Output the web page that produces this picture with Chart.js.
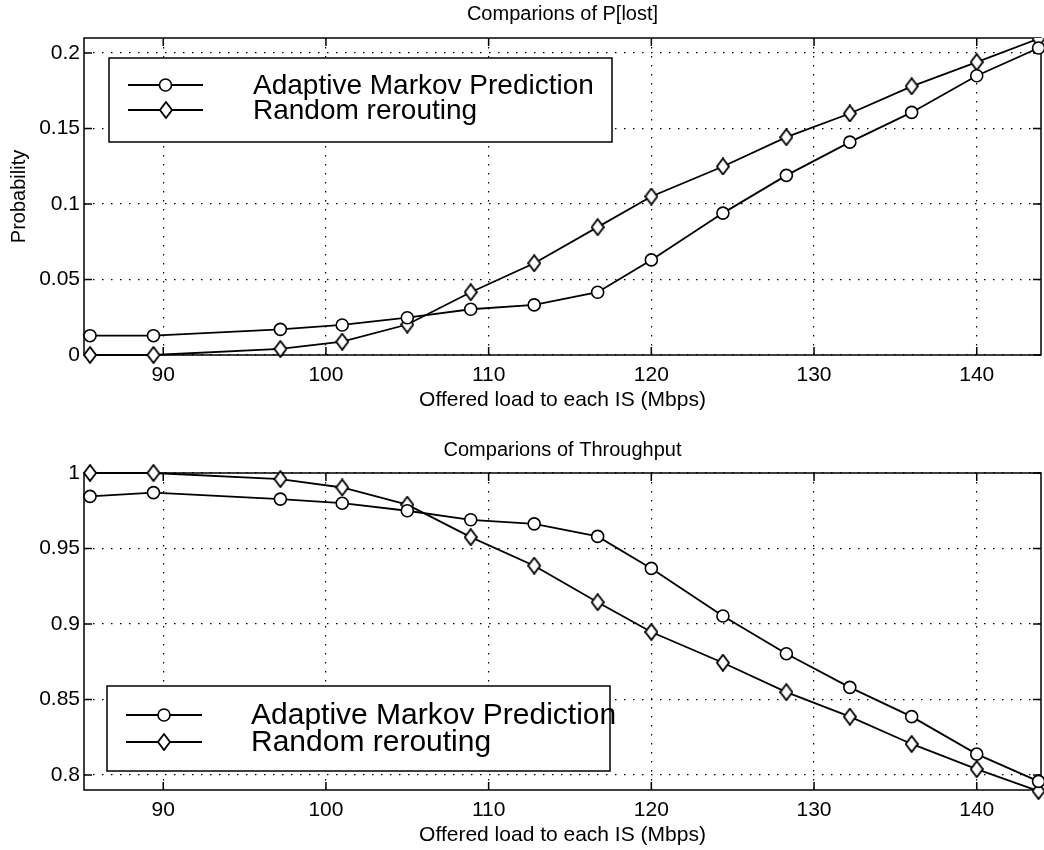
<!DOCTYPE html>
<html>
<head>
<meta charset="utf-8">
<title>Comparions of P[lost] / Throughput</title>
<script src="https://cdn.jsdelivr.net/npm/chart.js@4.4.1/dist/chart.umd.min.js"></script>
<style>
  body { margin: 0; background: #fff; }
  canvas { display: block; }
</style>
</head>
<body>
<canvas id="lostChart" width="1044" height="420"></canvas>
<canvas id="throughputChart" width="1044" height="430"></canvas>
<script>
// Offered load to each IS (Mbps) - same sample points for both schemes
const offeredLoad = [85.5, 89.4, 97.2, 101.0, 105.0, 108.9, 112.8, 116.7, 120.0, 124.4, 128.3, 132.2, 136.0, 140.0, 143.8];

// P[lost]
const lostAdaptive = [0.0128, 0.0128, 0.0170, 0.0199, 0.0247, 0.0303, 0.0332, 0.0416, 0.0630, 0.0940, 0.1190, 0.1410, 0.1607, 0.1850, 0.2034];
const lostRandom   = [0, 0, 0.0040, 0.0088, 0.0202, 0.0416, 0.0608, 0.0847, 0.1050, 0.1249, 0.1443, 0.1600, 0.1780, 0.1940, 0.2095];

// Throughput
const thruAdaptive = [0.9845, 0.9870, 0.9827, 0.9800, 0.9750, 0.9690, 0.9663, 0.9580, 0.9368, 0.9053, 0.8803, 0.8580, 0.8386, 0.8138, 0.7957];
const thruRandom   = [1.0, 1.0, 0.9960, 0.9904, 0.9790, 0.9575, 0.9386, 0.9144, 0.8947, 0.8743, 0.8548, 0.8386, 0.8205, 0.8038, 0.7893];

const seriesNames = ['Adaptive Markov Prediction', 'Random rerouting'];
const xTicks = [90, 100, 110, 120, 130, 140];
const lostTicks = [0, 0.05, 0.1, 0.15, 0.2];
const thruTicks = [0.8, 0.85, 0.9, 0.95, 1];

Chart.defaults.font.family = '"Liberation Sans", Arial, Helvetica, sans-serif';
Chart.defaults.color = '#000';

// hollow diamond marker, a bit taller than wide like the matlab one
function makeDiamond(w, h) {
  const c = document.createElement('canvas');
  c.width = w + 2;
  c.height = h + 2;
  const g = c.getContext('2d');
  g.beginPath();
  g.moveTo(c.width / 2, 1);
  g.lineTo(c.width - 1, c.height / 2);
  g.lineTo(c.width / 2, c.height - 1);
  g.lineTo(1, c.height / 2);
  g.closePath();
  g.fillStyle = '#fff';
  g.fill();
  g.lineWidth = 1.8;
  g.strokeStyle = '#000';
  g.stroke();
  return c;
}
const diamond = makeDiamond(12, 16);

function drawCircle(ctx, x, y) {
  ctx.beginPath();
  ctx.arc(x, y, 6, 0, Math.PI * 2);
  ctx.fillStyle = '#fff';
  ctx.fill();
  ctx.lineWidth = 1.6;
  ctx.strokeStyle = '#000';
  ctx.stroke();
}

// box around the axes, inward ticks, and the boxed legend inside the plot
const matlabAxes = {
  id: 'matlabAxes',
  beforeDatasetsDraw(chart) {
    const { ctx, chartArea: a, scales } = chart;
    ctx.save();
    ctx.strokeStyle = '#000';
    ctx.lineWidth = 1.5;
    ctx.strokeRect(a.left, a.top, a.width, a.height);
    ctx.beginPath();
    scales.x.ticks.forEach(t => {
      const px = scales.x.getPixelForValue(t.value);
      ctx.moveTo(px, a.top); ctx.lineTo(px, a.top + 8);
      ctx.moveTo(px, a.bottom); ctx.lineTo(px, a.bottom - 8);
    });
    scales.y.ticks.forEach(t => {
      const py = scales.y.getPixelForValue(t.value);
      ctx.moveTo(a.left, py); ctx.lineTo(a.left + 8, py);
      ctx.moveTo(a.right, py); ctx.lineTo(a.right - 8, py);
    });
    ctx.stroke();
    ctx.restore();
  },
  afterDraw(chart, args, opts) {
    if (!opts.box) return;
    const { ctx } = chart;
    const [l, t, r, b] = opts.box;
    ctx.save();
    ctx.fillStyle = '#fff';
    ctx.fillRect(l, t, r - l, b - t);
    ctx.lineWidth = 1.5;
    ctx.strokeStyle = '#000';
    ctx.strokeRect(l, t, r - l, b - t);
    chart.data.datasets.forEach((ds, i) => {
      const y = opts.rows[i];
      ctx.beginPath();
      ctx.moveTo(opts.line[0], y);
      ctx.lineTo(opts.line[1], y);
      ctx.lineWidth = 1.8;
      ctx.strokeStyle = '#000';
      ctx.stroke();
      const mx = (opts.line[0] + opts.line[1]) / 2;
      if (ds.pointStyle === 'circle') drawCircle(ctx, mx, y);
      else ctx.drawImage(diamond, Math.round(mx - diamond.width / 2), Math.round(y - diamond.height / 2));
      ctx.fillStyle = '#000';
      ctx.font = opts.size + 'px "Liberation Sans", Arial, sans-serif';
      ctx.textBaseline = 'middle';
      ctx.textAlign = 'left';
      ctx.fillText(ds.label, opts.textX, y + 1);
    });
    ctx.restore();
  }
};

function toPoints(ys) {
  return offeredLoad.map((x, i) => ({ x: x, y: ys[i] }));
}

function makeChart(id, cfg) {
  return new Chart(document.getElementById(id), {
    type: 'line',
    data: {
      datasets: [
        {
          label: seriesNames[0],
          data: toPoints(cfg.adaptive),
          borderColor: '#000',
          borderWidth: 1.8,
          pointStyle: 'circle',
          pointRadius: 6,
          pointBorderWidth: 1.6,
          pointBorderColor: '#000',
          pointBackgroundColor: '#fff',
          tension: 0,
          clip: cfg.clip
        },
        {
          label: seriesNames[1],
          data: toPoints(cfg.random),
          borderColor: '#000',
          borderWidth: 1.8,
          pointStyle: diamond,
          pointRadius: 8,
          tension: 0,
          clip: cfg.clip
        }
      ]
    },
    options: {
      responsive: false,
      animation: false,
      layout: { padding: cfg.padding, autoPadding: false },
      plugins: {
        legend: { display: false },
        tooltip: { enabled: false },
        title: {
          display: true,
          text: cfg.title,
          fullSize: false,
          font: { size: 20, weight: 'normal' },
          padding: cfg.titlePadding
        },
        matlabAxes: cfg.legend
      },
      scales: {
        x: {
          type: 'linear',
          min: 85.13,
          max: 143.95,
          afterBuildTicks: s => { s.ticks = xTicks.map(v => ({ value: v })); },
          afterFit: s => { s.height = 60; s.paddingLeft = 0; s.paddingRight = 0; },
          ticks: { font: { size: 21 }, padding: 8, maxRotation: 0 },
          grid: { color: '#000', lineWidth: 1.2, drawTicks: false },
          border: { display: false, dash: [1.5, 7.5] },
          title: {
            display: true,
            text: 'Offered load to each IS (Mbps)',
            font: { size: 21 },
            padding: { top: 0, bottom: 2 }
          }
        },
        y: {
          min: cfg.yMin,
          max: cfg.yMax,
          afterBuildTicks: s => { s.ticks = cfg.yTicks.map(v => ({ value: v })); },
          afterFit: s => { s.width = 84; s.paddingTop = 0; s.paddingBottom = 0; },
          ticks: { font: { size: 21 }, padding: 4, callback: v => String(v) },
          grid: { color: '#000', lineWidth: 1.2, drawTicks: false },
          border: { display: false, dash: [1.5, 7.5] },
          title: {
            display: cfg.yTitle !== '',
            text: cfg.yTitle,
            font: { size: 20 },
            padding: { top: 7, bottom: 0 }
          }
        }
      }
    },
    plugins: [matlabAxes]
  });
}

makeChart('lostChart', {
  title: 'Comparions of P[lost]',
  adaptive: lostAdaptive,
  random: lostRandom,
  yMin: 0,
  yMax: 0.21,
  yTicks: lostTicks,
  yTitle: 'Probability',
  padding: { left: 0, right: 3, top: 0, bottom: 5 },
  titlePadding: { top: 2, bottom: 12 },
  clip: { left: 10, top: 0, right: 3, bottom: 10 },
  legend: { box: [109, 58, 612, 142], rows: [85, 110], line: [128, 203], textX: 253, size: 28 }
});

makeChart('throughputChart', {
  title: 'Comparions of Throughput',
  adaptive: thruAdaptive,
  random: thruRandom,
  yMin: 0.79,
  yMax: 1,
  yTicks: thruTicks,
  yTitle: '',
  padding: { left: 0, right: 3, top: 0, bottom: 0 },
  titlePadding: { top: 18, bottom: 11 },
  clip: { left: 10, top: 10, right: 3, bottom: 10 },
  legend: { box: [107, 266, 610, 351], rows: [295, 322], line: [126, 202], textX: 251, size: 30 }
});
</script>
</body>
</html>
